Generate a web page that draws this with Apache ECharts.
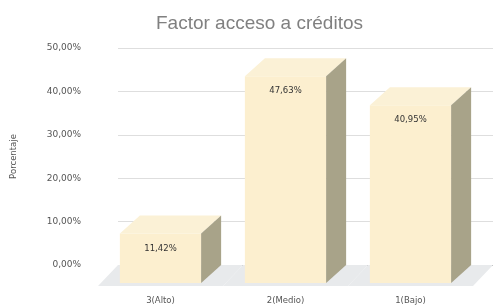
<!DOCTYPE html>
<html>
<head>
<meta charset="utf-8">
<script src="https://cdn.jsdelivr.net/npm/echarts@6/dist/echarts.min.js"></script>
<style>
  html, body { margin: 0; padding: 0; background: #fff; }
  #chart { width: 493px; height: 305px; }
</style>
</head>
<body>
<div id="chart"></div>
<script>
// datos
var categorias = ['3(Alto)', '2(Medio)', '1(Bajo)'];
var porcentajes = [11.42, 47.63, 40.95];
var ejeMin = 0, ejeMax = 50, ejeIntervalo = 10;

function fmt(v) {
  return v.toFixed(2).replace('.', ',') + '%';
}

var DX = 20, DY = 18; // profundidad 3D
var FUENTE = 'DejaVu Sans, sans-serif';

var chart = echarts.init(document.getElementById('chart'));
var option = {
  animation: false,
  textStyle: { fontFamily: FUENTE },
  title: {
    text: 'Factor acceso a créditos',
    left: 151,
    top: 9,
    textStyle: { fontSize: 19, fontWeight: 'normal', color: '#808080', fontFamily: 'Liberation Sans, Arial, sans-serif' }
  },
  grid: { left: 118, right: 0, top: 48, bottom: 40 },
  xAxis: {
    type: 'category',
    data: categorias,
    axisLine: { show: false },
    axisTick: { show: false },
    axisLabel: { show: false }
  },
  yAxis: {
    type: 'value',
    min: ejeMin,
    max: ejeMax,
    interval: ejeIntervalo,
    name: 'Porcentaje',
    nameLocation: 'middle',
    nameGap: 100,
    nameTextStyle: { fontSize: 8.5, color: '#555' },
    axisLabel: { formatter: fmt, fontSize: 9, color: '#555', margin: 37 },
    splitLine: {
      lineStyle: {
        color: ['#9a9a9a', '#dedede', '#dedede', '#dedede', '#dedede', '#dedede']
      }
    }
  },
  series: [{
    type: 'custom',
    data: porcentajes.map(function (v, i) { return [i, v]; }),
    renderItem: function (params, api) {
      var base = api.coord([api.value(0), 0]);
      var top = api.coord([api.value(0), api.value(1)]);
      var band = api.size([1, 0])[0];
      var bw = band * 0.65;
      var cx = base[0];
      var fx = cx - DX - bw / 2;
      var fy = top[1] + DY;
      var fb = base[1] + DY;
      var bl = cx - band / 2, br = cx + band / 2;
      return {
        type: 'group',
        children: [
          { // suelo
            type: 'polygon',
            shape: { points: [[bl, base[1]], [br, base[1]], [br - DX, fb + 3], [bl - DX, fb + 3]] },
            style: { fill: '#e8eaec' }
          },
          { // frente
            type: 'rect',
            shape: { x: fx, y: fy, width: bw, height: fb - fy },
            style: { fill: '#fcefcf' }
          },
          { // tapa
            type: 'polygon',
            shape: { points: [[fx, fy], [fx + bw, fy], [fx + bw + DX, fy - DY], [fx + DX, fy - DY]] },
            style: { fill: '#fbf1d6' }
          },
          { // lado
            type: 'polygon',
            shape: { points: [[fx + bw, fy], [fx + bw + DX, fy - DY], [fx + bw + DX, base[1]], [fx + bw, fb]] },
            style: { fill: '#a8a389' }
          },
          {
            type: 'text',
            style: {
              text: fmt(api.value(1)),
              x: fx + bw / 2, y: fy + 15,
              align: 'center', verticalAlign: 'middle',
              fontSize: 8.5, fill: '#333', fontFamily: FUENTE
            }
          },
          {
            type: 'text',
            style: {
              text: categorias[api.value(0)],
              x: fx + bw / 2, y: fb + 18,
              align: 'center', verticalAlign: 'middle',
              fontSize: 8.5, fill: '#555', fontFamily: FUENTE
            }
          }
        ]
      };
    }
  }]
};
chart.setOption(option);
</script>
</body>
</html>
